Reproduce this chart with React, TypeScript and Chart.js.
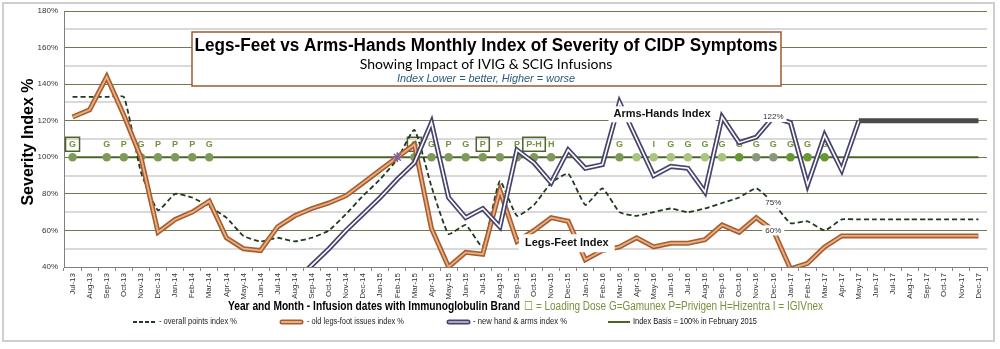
import React, { useEffect, useRef } from 'react';
import { Chart, registerables } from 'chart.js';

Chart.register(...registerables);

const months = [
  'Jul-13', 'Aug-13', 'Sep-13', 'Oct-13', 'Nov-13', 'Dec-13',
  'Jan-14', 'Feb-14', 'Mar-14', 'Apr-14', 'May-14', 'Jun-14', 'Jul-14', 'Aug-14', 'Sep-14', 'Oct-14', 'Nov-14', 'Dec-14',
  'Jan-15', 'Feb-15', 'Mar-15', 'Apr-15', 'May-15', 'Jun-15', 'Jul-15', 'Aug-15', 'Sep-15', 'Oct-15', 'Nov-15', 'Dec-15',
  'Jan-16', 'Feb-16', 'Mar-16', 'Apr-16', 'May-16', 'Jun-16', 'Jul-16', 'Aug-16', 'Sep-16', 'Oct-16', 'Nov-16', 'Dec-16',
  'Jan-17', 'Feb-17', 'Mar-17', 'Apr-17', 'May-17', 'Jun-17', 'Jul-17', 'Aug-17', 'Sep-17', 'Oct-17', 'Nov-17', 'Dec-17',
];

// overall points index %
const overallIndex = [
  133, 133, 133, 133, 92, 71,
  80, 78, 73, 67, 57, 54, 56, 54, 56, 60, 69, 79,
  88, 99, 115, 84, 58, 63, 51, 87, 68, 74, 86, 91,
  74, 83, 70, 68, 70, 72, 70, 72, 75, 78, 83, 75,
  64, 65, 60, 66, 66, 66, 66, 66, 66, 66, 66, 66,
];

// old legs-foot issues index %
const legsIndex = [
  122, 126, 144, 123, 100, 59,
  66, 70, 76, 56, 50, 49, 62, 68, 72, 75, 79, 86,
  93, 100, 107, 61, 40, 48, 47, 82, 54, 60, 67, 65,
  44, 49, 51, 56, 51, 53, 53, 55, 63, 59, 67, 60,
  39, 42, 51, 57, 57, 57, 57, 57, 57, 57, 57, 57,
];

// new hand & arms index %
const armsIndex = [
  null, null, null, null, null, null,
  null, null, null, null, null, null, null, 32, 41, 50, 60, 69,
  78, 88, 97, 119, 78, 67, 72, 62, 104, 97, 86, 104,
  94, 96, 130, 110, 90, 95, 94, 81, 122, 108, 111, 122,
  119, 85, 112, 93, 120, 120, 120, 120, 120, 120, 120, 120,
];

// Index Basis = 100% in February 2015
const basisIndex = months.map(() => 100);

// Immunoglobulin brand at each infusion month (null = no infusion)
const infusionBrand = [
  'G', null, 'G', 'P', 'G', 'P',
  'P', 'P', 'G', null, null, null, null, null, null, null, null, null,
  null, null, 'G', 'G', 'P', 'G', 'P', 'P', 'P', 'P-H', 'H', null,
  null, null, 'G', '', 'I', 'G', 'G', 'G', 'G', 'G', 'G', 'G',
  'G', 'G', 'G', null, null, null, null, null, null, null, null, null,
];
// loading dose months (boxed)
const loadingDose = ['Jul-13', 'Mar-15', 'Jul-15', 'Oct-15'];

const basisMonth = 'Feb-15';
const labelMonth = 'Dec-16';

const OLIVE = '#76923c';
const DARK_OLIVE = '#4f6228';
const PURPLE_OUT = '#46436c';
const BROWN_OUT = '#a65d31';
const BROWN_IN = '#eab07f';
const DASH = '#1f3a1f';
const FONT = '"Liberation Sans", Arial, sans-serif';

function dotColor(i: number): string {
  if (i >= 33 && i <= 38) return '#a9c47f';
  if (i === 39 || i >= 42) return '#66982f';
  if (i === 40 || i === 41) return '#86977a';
  return '#7e9a5a';
}

export default function App() {
  const ref = useRef<HTMLCanvasElement | null>(null);

  useEffect(() => {
    const canvas = ref.current;
    if (!canvas) return;
    Chart.defaults.font.family = FONT;

    const drawLabel = (ctx: CanvasRenderingContext2D, text: string, x: number, y: number, font: string, color: string, bgPadX: number, bgH: number, align: 'left' | 'center' = 'center') => {
      ctx.save();
      ctx.font = font;
      const w = ctx.measureText(text).width;
      const left = align === 'center' ? x - w / 2 : x;
      ctx.fillStyle = '#ffffff';
      ctx.fillRect(left - bgPadX, y - bgH / 2, w + bgPadX * 2, bgH);
      ctx.fillStyle = color;
      ctx.textAlign = 'left';
      ctx.textBaseline = 'middle';
      ctx.fillText(text, left, y);
      ctx.restore();
    };

    const decor = {
      id: 'decor',
      beforeDatasetsDraw(chart: any) {
        const ctx: CanvasRenderingContext2D = chart.ctx;
        const xs = chart.scales.x;
        const ys = chart.scales.y;
        ctx.save();
        ctx.font = `bold 9px ${FONT}`;
        ctx.textAlign = 'center';
        ctx.textBaseline = 'middle';
        const yl = ys.getPixelForValue(100) - 13;
        infusionBrand.forEach((b, i) => {
          if (!b) return;
          const x = xs.getPixelForValue(i);
          ctx.fillStyle = OLIVE;
          ctx.fillText(b, x, yl);
          if (loadingDose.includes(months[i])) {
            const w = Math.max(12, ctx.measureText(b).width + 7);
            ctx.strokeStyle = DARK_OLIVE;
            ctx.lineWidth = 1.5;
            ctx.strokeRect(x - w / 2, yl - 7, w, 14);
          }
        });
        ctx.restore();
      },
      afterDatasetsDraw(chart: any) {
        const ctx: CanvasRenderingContext2D = chart.ctx;
        const xs = chart.scales.x;
        const ys = chart.scales.y;
        const li = months.indexOf(labelMonth);
        const lx = xs.getPixelForValue(li);
        drawLabel(ctx, armsIndex[li] + '%', lx, ys.getPixelForValue(armsIndex[li] as number), `8px ${FONT}`, '#333', 3, 10);
        drawLabel(ctx, overallIndex[li] + '%', lx, ys.getPixelForValue(overallIndex[li]), `8px ${FONT}`, '#333', 3, 10);
        drawLabel(ctx, legsIndex[li] + '%', lx, ys.getPixelForValue(legsIndex[li]), `8px ${FONT}`, '#333', 3, 10);

        // series name annotations
        const ax = xs.getPixelForValue(32) - 6;
        drawLabel(ctx, 'Arms-Hands Index', ax, ys.getPixelForValue(123.5), `bold 11px ${FONT}`, '#111', 5, 16, 'left');
        const bx = xs.getPixelForValue(26) + 8;
        drawLabel(ctx, 'Legs-Feet Index', bx, ys.getPixelForValue(53), `bold 11px ${FONT}`, '#111', 6, 18, 'left');
      },
      afterDraw(chart: any) {
        const ctx: CanvasRenderingContext2D = chart.ctx;
        ctx.save();
        // title box
        ctx.fillStyle = '#ffffff';
        ctx.fillRect(192, 32, 589, 54);
        ctx.strokeStyle = '#9a5a36';
        ctx.lineWidth = 1.5;
        ctx.strokeRect(192, 32, 589, 54);
        ctx.textAlign = 'center';
        ctx.textBaseline = 'middle';
        ctx.fillStyle = '#000';
        ctx.font = `bold 18px ${FONT}`;
        ctx.fillText('Legs-Feet vs Arms-Hands Monthly Index of Severity of CIDP Symptoms', 486, 46, 583);
        ctx.font = `14px Lato, "Open Sans", sans-serif`;
        ctx.fillText('Showing Impact of IVIG & SCIG Infusions', 486, 64, 255);
        ctx.font = `italic 11px ${FONT}`;
        ctx.fillStyle = '#2a5b7c';
        ctx.fillText('Index Lower = better, Higher = worse', 486, 79, 178);

        // y axis title
        ctx.save();
        ctx.translate(29, 142);
        ctx.rotate(-Math.PI / 2);
        ctx.fillStyle = '#000';
        ctx.font = `bold 16px ${FONT}`;
        ctx.fillText('Severity Index %', 0, 0);
        ctx.restore();

        // x axis title
        ctx.textAlign = 'left';
        ctx.fillStyle = '#000';
        ctx.font = `bold 12px "Liberation Sans Narrow", ${FONT}`;
        ctx.fillText('Year and Month - Infusion dates with Immunoglobulin Brand', 228, 307, 292);
        ctx.fillStyle = OLIVE;
        ctx.font = `12px "Liberation Sans Narrow", ${FONT}`;
        ctx.fillText('\u2610 = Loading Dose G=Gamunex P=Privigen H=Hizentra I = IGIVnex', 524, 307, 299);

        // legend
        const ly = 322;
        ctx.font = `9px "Liberation Sans Narrow", ${FONT}`;
        ctx.fillStyle = '#222';
        ctx.lineCap = 'butt';
        // dashed
        ctx.strokeStyle = DASH;
        ctx.lineWidth = 2;
        ctx.setLineDash([4, 2]);
        ctx.beginPath(); ctx.moveTo(133, ly); ctx.lineTo(155, ly); ctx.stroke();
        ctx.setLineDash([]);
        ctx.fillText('- overall points index %', 159, ly, 78);
        // brown
        ctx.lineCap = 'round';
        ctx.strokeStyle = BROWN_OUT; ctx.lineWidth = 5;
        ctx.beginPath(); ctx.moveTo(282, ly); ctx.lineTo(301, ly); ctx.stroke();
        ctx.strokeStyle = BROWN_IN; ctx.lineWidth = 2;
        ctx.beginPath(); ctx.moveTo(282, ly); ctx.lineTo(301, ly); ctx.stroke();
        ctx.fillText('- old legs-foot issues index %', 307, ly, 97);
        // purple
        ctx.strokeStyle = PURPLE_OUT; ctx.lineWidth = 5;
        ctx.beginPath(); ctx.moveTo(449, ly); ctx.lineTo(468, ly); ctx.stroke();
        ctx.strokeStyle = '#a9a6c4'; ctx.lineWidth = 2;
        ctx.beginPath(); ctx.moveTo(449, ly); ctx.lineTo(468, ly); ctx.stroke();
        ctx.fillText('- new hand & arms index %', 473, ly, 94);
        // basis
        ctx.lineCap = 'butt';
        ctx.strokeStyle = DARK_OLIVE; ctx.lineWidth = 2;
        ctx.beginPath(); ctx.moveTo(608, ly); ctx.lineTo(630, ly); ctx.stroke();
        ctx.fillStyle = '#111';
        ctx.fillText('Index Basis = 100% in February 2015', 633, ly, 124);

        // outer border
        ctx.strokeStyle = '#cfcfcf';
        ctx.lineWidth = 2;
        ctx.strokeRect(3, 3, 991, 338);
        ctx.restore();
      },
    };

    const bi = months.indexOf(basisMonth);
    const starData = months.map((_, i) => (i === bi ? 100 : null));

    const chart = new Chart(canvas, {
      type: 'line',
      data: {
        labels: months,
        datasets: [
          {
            label: 'basis marker',
            data: starData,
            showLine: false,
            pointStyle: 'star',
            pointRadius: 5,
            pointBorderColor: '#8064a2',
            pointBorderWidth: 1.5,
            pointBackgroundColor: '#8064a2',
          },
          {
            label: 'arms inner',
            data: armsIndex,
            borderColor: '#ffffff',
            borderWidth: 1.6,
            pointRadius: 0,
            tension: 0,
            segment: {
              borderColor: (c: any) => (c.p0DataIndex >= 46 ? '#4a4a4a' : undefined),
            },
          },
          {
            label: '- new hand & arms index %',
            data: armsIndex,
            borderColor: PURPLE_OUT,
            borderWidth: 5,
            pointRadius: 0,
            tension: 0,
            borderJoinStyle: 'miter',
            segment: {
              borderColor: (c: any) => (c.p0DataIndex >= 46 ? '#4a4a4a' : undefined),
            },
          },
          {
            label: 'legs inner',
            data: legsIndex,
            borderColor: BROWN_IN,
            borderWidth: 1.8,
            pointRadius: 0,
            tension: 0,
          },
          {
            label: '- old legs-foot issues index %',
            data: legsIndex,
            borderColor: BROWN_OUT,
            borderWidth: 5,
            pointRadius: 0,
            tension: 0,
          },
          {
            label: '- overall points index %',
            data: overallIndex,
            borderColor: DASH,
            borderWidth: 1.8,
            borderDash: [5, 3],
            pointRadius: 0,
            tension: 0.15,
          },
          {
            label: 'infusions',
            data: infusionBrand.map((b) => (b === null ? null : 100)),
            showLine: false,
            pointRadius: 4.3,
            pointBorderWidth: 0,
            pointBackgroundColor: infusionBrand.map((_, i) => dotColor(i)),
          },
          {
            label: 'Index Basis = 100% in February 2015',
            data: basisIndex,
            borderColor: DARK_OLIVE,
            borderWidth: 2,
            pointRadius: 0,
          },
        ],
      },
      options: {
        responsive: false,
        animation: false,
        events: [],
        layout: { padding: { left: 30, right: 13, top: 11, bottom: 0 } },
        plugins: {
          legend: { display: false },
          tooltip: { enabled: false },
          title: { display: false },
        },
        scales: {
          x: {
            type: 'category',
            offset: true,
            grid: {
              offset: true,
              drawOnChartArea: false,
              drawTicks: true,
              tickLength: 4,
              color: '#8a8a8a',
            },
            border: { display: true, color: '#7f7f7f', width: 1 },
            ticks: {
              autoSkip: false,
              maxRotation: 90,
              minRotation: 90,
              padding: 2,
              color: '#333',
              font: { size: 8 },
            },
            afterFit: (s: any) => { s.height = 82; },
          },
          y: {
            min: 40,
            max: 180,
            ticks: {
              stepSize: 10,
              padding: 6,
              color: '#333',
              font: { size: 8 },
              callback: (v: any) => (Number(v) % 20 === 0 ? v + '%' : ''),
            },
            grid: {
              drawTicks: false,
              color: (c: any) => (c.tick && c.tick.value % 20 === 0 ? '#77774f' : '#d9d9d9'),
              lineWidth: (c: any) => (c.tick && c.tick.value % 20 === 0 ? 1 : 2),
            },
            border: { display: true, color: '#7f7f7f', width: 1 },
            afterFit: (s: any) => { s.width = 34; },
          },
        },
      },
      plugins: [decor],
    } as any);

    return () => chart.destroy();
  }, []);

  return (
    <div style={{ position: 'fixed', left: 0, top: 0, width: 1000, height: 349, background: '#fff' }}>
      <canvas ref={ref} width={1000} height={349} style={{ display: 'block', width: 1000, height: 349 }} />
    </div>
  );
}
